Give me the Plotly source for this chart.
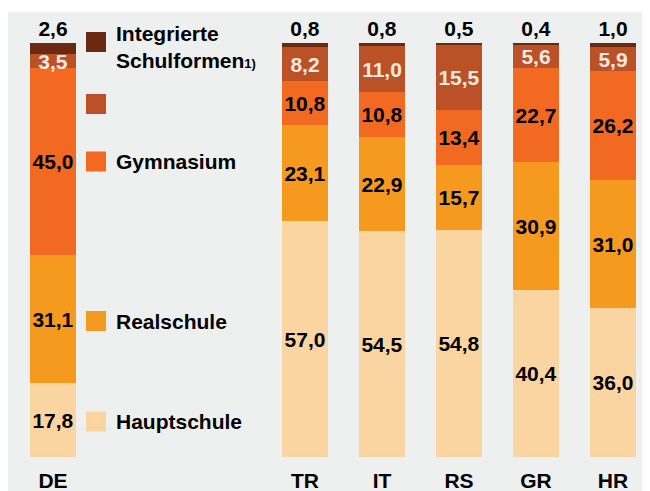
import plotly.graph_objects as go

# ---- data ----
categories = ["DE", "TR", "IT", "RS", "GR", "HR"]
hauptschule = [17.8, 57.0, 54.5, 54.8, 40.4, 36.0]
realschule = [31.1, 23.1, 22.9, 15.7, 30.9, 31.0]
gymnasium = [45.0, 10.8, 10.8, 13.4, 22.7, 26.2]
unlabeled = [3.5, 8.2, 11.0, 15.5, 5.6, 5.9]
integrierte = [2.6, 0.8, 0.8, 0.5, 0.4, 1.0]

series_names = ["Hauptschule", "Realschule", "Gymnasium", "",
                "Integrierte<br>Schulformen<span style='font-size:13px'>1)</span>"]
series_values = [hauptschule, realschule, gymnasium, unlabeled, integrierte]
colors = ["#fad5a2", "#f5991f", "#f26a21", "#bb5227", "#6c2911"]
text_colors = ["#000000", "#000000", "#000000", "#f3e9e0", "#000000"]

# ---- layout helpers (page pixels; body margin of 8px offsets the figure) ----
OFF = 8
W, H = 650 - OFF, 491 - OFF
L, T = 0, 4
PW, PH = W - L, H - T
GAP = 3.273  # distance (in bar steps) between DE and the first country
xpos = [0.0] + [GAP + i for i in range(len(categories) - 1)]

FONT = "Liberation Sans, Arial, Helvetica, sans-serif"

def fx(p):  # page px -> figure px
    return p - OFF

def fmt(v):
    return f"{v:.1f}".replace(".", ",")

fig = go.Figure()
n = len(series_values)
for k, (name, vals, col, tcol) in enumerate(zip(series_names, series_values, colors, text_colors)):
    last = (k == n - 1)
    fig.add_trace(go.Bar(
        x=xpos, y=vals, name=name or "Gesamt",
        marker=dict(color=col, line=dict(width=0)),
        width=0.597,
        text=[f"<b>{fmt(v)}</b>" for v in vals],
        textposition="outside" if last else "inside",
        insidetextanchor="middle",
        textangle=0,
        textfont=dict(family=FONT, size=21, color=tcol),
        outsidetextfont=dict(family=FONT, size=21, color="#000000"),
        cliponaxis=False,
        showlegend=False,
        hoverinfo="skip",
    ))

# y scale: 0 at page px 457, 100 at page px 43
bar_bottom, bar_top = fx(457), fx(43)
ppu = (bar_bottom - bar_top) / 100.0
y_top = 100 + (bar_top - T) / ppu
y_bot = -(H - bar_bottom) / ppu
de_center = fx(53)
x_left = 0 - (de_center - L) / 77.0
x_right = (W - de_center) / 77.0

fig.update_layout(
    width=W, height=H,
    margin=dict(l=L, r=0, t=T, b=0, pad=0),
    paper_bgcolor="#ffffff",
    plot_bgcolor="#eef0ef",
    barmode="stack",
    bargap=0,
    uniformtext=dict(minsize=21, mode="show"),
    font=dict(family=FONT, size=21, color="#000000"),
    xaxis=dict(
        range=[x_left, x_right],
        tickvals=xpos, ticktext=[f"<b>{c}</b>" for c in categories],
        anchor="free", position=(H - bar_bottom) / PH,
        showgrid=False, zeroline=False, showline=False,
        ticks="outside", ticklen=5, tickcolor="rgba(0,0,0,0)",
        tickfont=dict(family=FONT, size=21, color="#000000"),
        fixedrange=True,
    ),
    yaxis=dict(
        range=[y_bot, y_top], visible=False, showgrid=False, zeroline=False,
        fixedrange=True,
    ),
)

# ---- manual legend (squares + labels) ----
def px_x(p):
    return (fx(p) - L) / PW

def px_y(p):
    return (H - fx(p)) / PH

legend_centers = [421.5, 321, 161.5, 104, 42]   # page pixel rows, same order as series
label_centers = [421.5, 321, 161.5, 104, 47]
sq = 20
for name, col, cy, ty in zip(series_names, colors, legend_centers, label_centers):
    fig.add_shape(type="rect", xref="paper", yref="paper",
                  x0=px_x(86), x1=px_x(86 + sq), y0=px_y(cy + sq / 2), y1=px_y(cy - sq / 2),
                  fillcolor=col, line=dict(width=0), layer="above")
    if name:
        fig.add_annotation(xref="paper", yref="paper", x=px_x(114), y=px_y(ty),
                           xanchor="left", yanchor="middle", align="left",
                           text=f"<b>{name}</b>", showarrow=False,
                           font=dict(family=FONT, size=21, color="#000000"))

fig.write_html("out.html")
